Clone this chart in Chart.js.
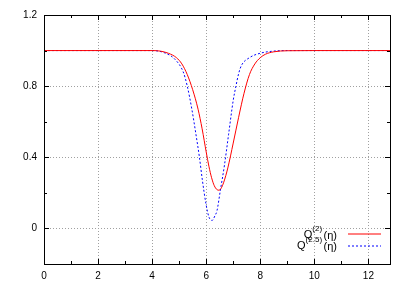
<!DOCTYPE html>
<html>
<head>
<meta charset="utf-8">
<script src="https://cdn.jsdelivr.net/npm/chart.js@4"></script>
<style>
  html, body { margin: 0; padding: 0; background: #fff; }
  #wrap { width: 411px; height: 287px; }
</style>
</head>
<body>
<div id="wrap"><canvas id="chart" width="411" height="287"></canvas></div>
<script>
// values
const etaQ2 = [0, 3, 4, 4.3, 4.6, 4.9, 5.1, 5.3, 5.5, 5.7, 5.85, 6.0, 6.1, 6.2, 6.3, 6.4, 6.47, 6.55, 6.65, 6.8, 7.0, 7.2, 7.4, 7.6, 7.8, 8.0, 8.2, 8.5, 9, 10, 12.8];
const valQ2 = [1, 1, 1, 0.997, 0.985, 0.96, 0.925, 0.865, 0.78, 0.67, 0.56, 0.43, 0.35, 0.285, 0.24, 0.218, 0.215, 0.225, 0.26, 0.34, 0.48, 0.625, 0.76, 0.865, 0.925, 0.96, 0.98, 0.993, 0.999, 1, 1];

const etaQ25 = [0, 4, 4.5, 4.85, 5.15, 5.3, 5.47, 5.62, 5.75, 5.86, 5.99, 6.1, 6.22, 6.32, 6.4, 6.52, 6.68, 6.83, 7.0, 7.1, 7.2, 7.3, 7.6, 8.0, 8.5, 9, 12.8];
const valQ25 = [1, 1, 0.985, 0.95, 0.88, 0.8, 0.67, 0.53, 0.4, 0.27, 0.14, 0.065, 0.045, 0.07, 0.1, 0.21, 0.36, 0.53, 0.72, 0.8, 0.87, 0.915, 0.96, 0.985, 0.997, 1, 1];

const xLabels = [0, 2, 4, 6, 8, 10, 12];
const xMinor = [1, 3, 5, 7, 9, 11];
const yLabels = [0, 0.4, 0.8, 1.2];
const yMinor = [-0.2, 0.2, 0.6, 1.0];

const legendItems = [
  { base: 'Q', sup: '(2)', tail: '(\u03b7)', color: '#ff0000', dash: [] },
  { base: 'Q', sup: '(2.5)', tail: '(\u03b7)', color: '#0000ff', dash: [2, 2] }
];

const FONT = 'Liberation Sans, Arial, sans-serif';

// inward ticks on all four sides plus the black frame
const frameTicks = {
  id: 'frameTicks',
  afterDraw(chart) {
    const { ctx, chartArea: a, scales } = chart;
    const xs = scales.x, ys = scales.y;
    ctx.save();
    ctx.strokeStyle = '#000';
    ctx.lineWidth = 1;
    ctx.beginPath();
    const tickX = (v, len) => {
      const p = Math.round(xs.getPixelForValue(v)) + 0.5;
      ctx.moveTo(p, a.bottom); ctx.lineTo(p, a.bottom - len);
      ctx.moveTo(p, a.top); ctx.lineTo(p, a.top + len);
    };
    const tickY = (v, len) => {
      const p = Math.round(ys.getPixelForValue(v)) + 0.5;
      ctx.moveTo(a.left, p); ctx.lineTo(a.left + len, p);
      ctx.moveTo(a.right, p); ctx.lineTo(a.right - len, p);
    };
    xLabels.forEach(v => tickX(v, 5));
    xMinor.forEach(v => tickX(v, 3));
    yLabels.forEach(v => tickY(v, 5));
    yMinor.forEach(v => tickY(v, 3));
    ctx.stroke();
    ctx.strokeRect(Math.round(a.left) + 0.5, Math.round(a.top) + 0.5,
      Math.round(a.right - a.left), Math.round(a.bottom - a.top));
    ctx.restore();
  }
};

// gnuplot style key with superscripts
const keyBox = {
  id: 'keyBox',
  afterDraw(chart) {
    const ctx = chart.ctx;
    const textRight = 337;
    const baselines = [238, 249];
    const sampleY = [234, 246];
    ctx.save();
    ctx.textBaseline = 'alphabetic';
    legendItems.forEach((it, i) => {
      const base = baselines[i];
      ctx.fillStyle = '#000';
      ctx.font = '11px ' + FONT;
      const wb = ctx.measureText(it.base).width;
      const wt = ctx.measureText(it.tail).width;
      ctx.font = '8px ' + FONT;
      const ws = ctx.measureText(it.sup).width;
      let x = textRight - wt - 1.5 - ws - wb;
      ctx.font = '11px ' + FONT;
      ctx.fillText(it.base, x, base);
      x += wb;
      ctx.font = '8px ' + FONT;
      ctx.fillText(it.sup, x, base - 7);
      x += ws + 1.5;
      ctx.font = '11px ' + FONT;
      ctx.fillText(it.tail, x, base + 1);
      // sample line
      ctx.strokeStyle = it.color;
      ctx.lineWidth = 1;
      ctx.setLineDash(it.dash);
      ctx.beginPath();
      ctx.moveTo(348, sampleY[i]);
      ctx.lineTo(381, sampleY[i]);
      ctx.stroke();
      ctx.setLineDash([]);
    });
    ctx.restore();
  }
};

const toPoints = (xs, ys) => xs.map((x, i) => ({ x: x, y: ys[i] }));

new Chart(document.getElementById('chart'), {
  type: 'line',
  data: {
    datasets: [
      {
        label: 'Q(2)',
        data: toPoints(etaQ2, valQ2),
        borderColor: '#ff0000',
        borderWidth: 1,
        pointRadius: 0,
        cubicInterpolationMode: 'monotone',
        fill: false
      },
      {
        label: 'Q(2.5)',
        data: toPoints(etaQ25, valQ25),
        borderColor: '#0000ff',
        borderWidth: 1,
        borderDash: [2, 2],
        pointRadius: 0,
        cubicInterpolationMode: 'monotone',
        fill: false
      }
    ]
  },
  options: {
    responsive: false,
    animation: false,
    devicePixelRatio: 1,
    layout: { padding: { left: 0, right: 21, top: 15, bottom: 0 } },
    plugins: {
      legend: { display: false },
      tooltip: { enabled: false }
    },
    scales: {
      x: {
        type: 'linear',
        min: 0,
        max: 12.8,
        afterBuildTicks: s => { s.ticks = xLabels.map(v => ({ value: v })); },
        afterFit: s => { s.height = 23; },
        ticks: {
          padding: 6,
          maxRotation: 0,
          color: '#000',
          font: { family: FONT, size: 10 }
        },
        grid: {
          color: '#a0a0a0',
          lineWidth: 1,
          drawTicks: false
        },
        border: { display: false, dash: [1, 2] }
      },
      y: {
        min: -0.2,
        max: 1.2,
        afterBuildTicks: s => { s.ticks = yLabels.map(v => ({ value: v })); },
        afterFit: s => { s.width = 44; },
        ticks: {
          padding: 7,
          color: '#000',
          font: { family: FONT, size: 10 },
          callback: v => String(Math.round(v * 10) / 10)
        },
        grid: {
          color: '#a0a0a0',
          lineWidth: 1,
          drawTicks: false
        },
        border: { display: false, dash: [1, 2] }
      }
    }
  },
  plugins: [frameTicks, keyBox]
});
</script>
</body>
</html>
